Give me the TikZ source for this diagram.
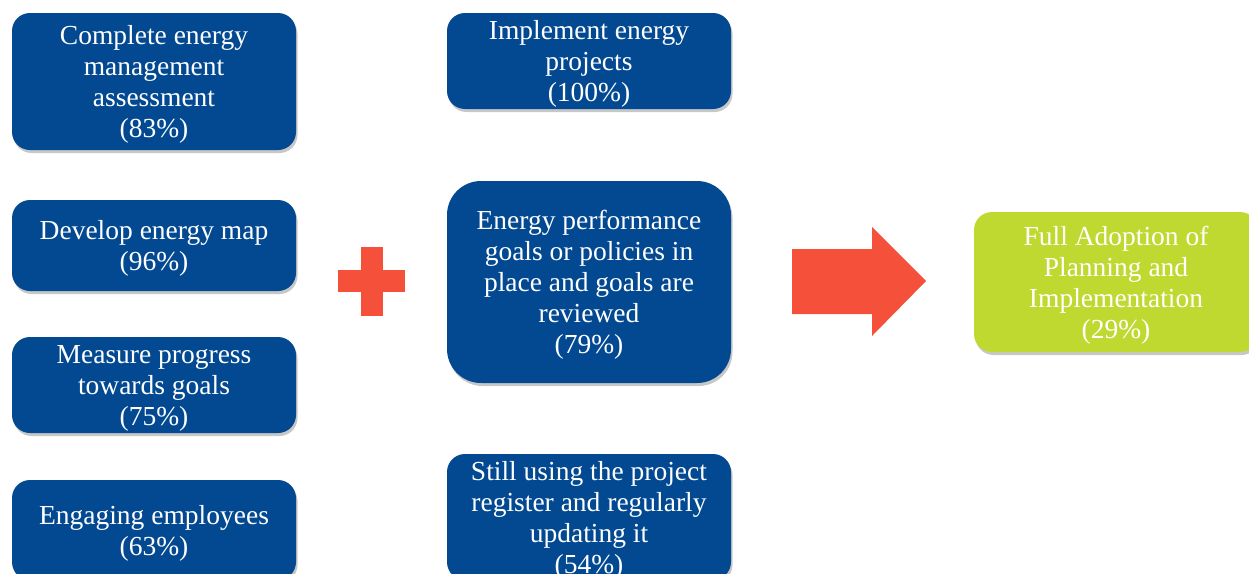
\documentclass[tikz,border=0pt]{standalone}
\usepackage{fontspec}
\setmainfont{Liberation Serif}
\usetikzlibrary{shadows}
\definecolor{boxblue}{RGB}{2,73,145}
\definecolor{accred}{RGB}{245,80,58}
\definecolor{accgreen}{RGB}{192,217,48}
\newcommand\firstlinestrut{\rule{0pt}{25.5pt}}
\begin{document}
\begin{tikzpicture}[x=1pt,y=-1pt,
  box/.style={rectangle, rounded corners=18pt, fill=boxblue, text=white, align=center,
    font=\fontsize{27.5}{31}\selectfont, inner sep=0pt, minimum width=284pt,
    drop shadow={shadow xshift=1.5pt, shadow yshift=-3pt, opacity=0.22, fill=black}},
  bigbox/.style={box, rounded corners=34pt},
  goalbox/.style={box, fill=accgreen},
  mark shape/.style={fill=accred}]
\useasboundingbox (0,0) rectangle (1249,573);
\clip (0,0) rectangle (1249,573);
% left column
\node[box, minimum height=137pt] (a1) at (154,81.5) {\firstlinestrut Complete energy\\management\\assessment\\(83\%)};
\node[box, minimum height=91pt] (a2) at (154,245.5) {\firstlinestrut Develop energy map\\(96\%)};
\node[box, minimum height=96pt] (a3) at (154,385) {\firstlinestrut Measure progress\\towards goals\\(75\%)};
\node[box, minimum height=100pt] (a4) at (154,530) {\firstlinestrut Engaging employees\\(63\%)};
% middle column
\node[box, minimum height=96pt] (b1) at (589,61) {\firstlinestrut Implement energy\\projects\\(100\%)};
\node[bigbox, minimum height=202pt] (b2) at (589,282) {\firstlinestrut Energy performance\\goals or policies in\\place and goals are\\reviewed\\(79\%)};
\node[box, minimum height=126pt] (b3) at (589,517) {\firstlinestrut Still using the project\\register and regularly\\updating it\\(54\%)};
% result
\node[goalbox, minimum height=140pt] (c1) at (1116,282) {\firstlinestrut Full Adoption of\\Planning and\\Implementation\\(29\%)};
% plus sign
\fill[mark shape] (361,247) rectangle (383,316);
\fill[mark shape] (338,270) rectangle (405,292);
% block arrow
\fill[mark shape] (792,249) -- (872,249) -- (872,227) -- (926,281) -- (872,336) -- (872,314) -- (792,314) -- cycle;
\end{tikzpicture}
\end{document}
